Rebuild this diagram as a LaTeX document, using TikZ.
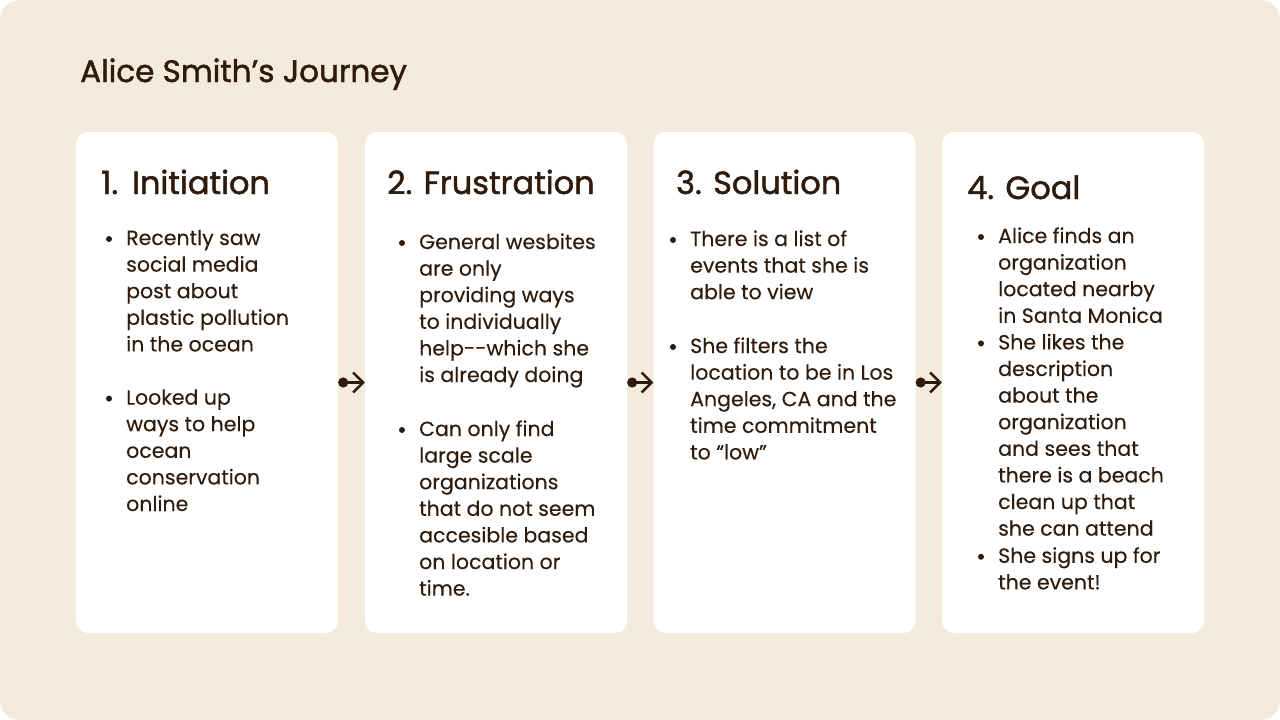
\documentclass[tikz,border=0pt]{standalone}
\usepackage{fontspec}
\setmainfont{Poppins}
\usetikzlibrary{arrows.meta}
\definecolor{bgc}{HTML}{F5EBDC}
\definecolor{ink}{HTML}{2E1B0C}
\tikzset{
  card/.style={fill=white, draw=none, rounded corners=12pt, minimum width=262pt, minimum height=501pt, inner sep=0pt},
  head/.style={anchor=base west, inner sep=0pt, text=ink, font=\fontsize{31}{36}\selectfont\addfontfeatures{FakeBold=1.5}},
  ctitle/.style={anchor=base west, inner sep=0pt, text=ink, font=\fontsize{32}{38}\selectfont\addfontfeatures{FakeBold=1.5}},
  txt/.style={anchor=base west, inner sep=0pt, text=ink, font=\fontsize{20.5}{26}\selectfont\addfontfeatures{FakeBold=0.15}},
  dotb/.style={circle, fill=ink, inner sep=0pt, minimum size=6pt},
  link/.style={draw=ink, line width=2.5pt, {Circle[length=10pt]}-{Straight Barb[length=10pt,width=20pt,line width=2.5pt]}},
}
\newcommand\bitem[4]{% x, first baseline, name, lines
  \node[dotb] (#3d) at (#1-17, #2-6) {};
  \foreach \t [count=\i from 0] in {#4} {
    \node[txt] (#3l\i) at (#1, #2+\i*26.6) {\t};
  }
}
\begin{document}
\begin{tikzpicture}[x=1pt,y=-1pt]
\useasboundingbox (0,0) rectangle (1280,720);
\fill[bgc, rounded corners=20pt] (0,0) rectangle (1280,720);
\node[head] (title) at (80,82) {Alice Smith’s Journey};

\node[card] (c1) at (207,382.5) {};
\node[card] (c2) at (496,382.5) {};
\node[card] (c3) at (784.5,382.5) {};
\node[card] (c4) at (1073,382.5) {};

\draw[link] (c1.east) -- (c2.west);
\draw[link] (c2.east) -- (c3.west);
\draw[link] (c3.east) -- (c4.west);

\node[ctitle] (t1) at (101,194) {1.\hspace{14pt}Initiation};
\node[ctitle] (t2) at (387,194) {2. Frustration};
\node[ctitle] (t3) at (676,194) {3. Solution};
\node[ctitle] (t4) at (967,199) {4. Goal};

\bitem{126}{245}{a1}{Recently saw, social media, post about, plastic pollution, in the ocean}
\bitem{126}{404.6}{a2}{Looked up, ways to help, ocean, conservation, online}

\bitem{419}{249}{b1}{General wesbites, are only, providing ways, to individually, help-{}-which she, is already doing}
\bitem{419}{436}{b2}{Can only find, large scale, organizations, that do not seem, accesible based, on location or, time.}

\bitem{690}{246}{d1}{There is a list of, events that she is, able to view}
\bitem{690}{353}{d2}{She filters the, location to be in Los, {Angeles, CA and the}, time commitment, to “low”}

\bitem{998}{243}{e1}{Alice finds an, organization, located nearby, in Santa Monica}
\bitem{998}{349.4}{e2}{She likes the, description, about the, organization, and sees that, there is a beach, clean up that, she can attend}
\bitem{998}{562.8}{e3}{She signs up for, the event!}
\end{tikzpicture}
\end{document}
